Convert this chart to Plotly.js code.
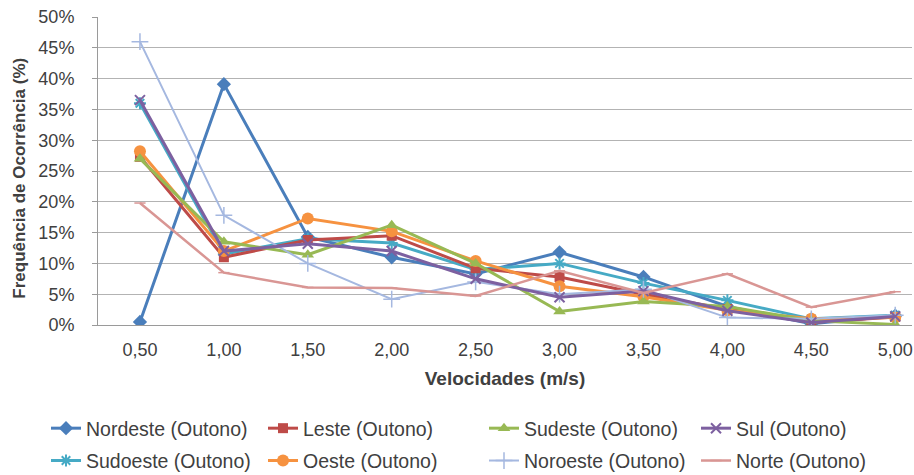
<!DOCTYPE html>
<html>
<head>
<meta charset="utf-8">
<script src="https://cdn.plot.ly/plotly-3.0.1.min.js"></script>
<style>
  html, body { margin: 0; padding: 0; background: #ffffff; }
  #chart { width: 914px; height: 475px; }
</style>
</head>
<body>
<div id="chart"></div>
<script>
// Wind speed classes (m/s)
const velocidades = ["0,50", "1,00", "1,50", "2,00", "2,50", "3,00", "3,50", "4,00", "4,50", "5,00"];

// Frequency of occurrence (%) per direction, autumn
const nordeste = [0.5, 39.1, 14.3, 11.0, 8.3, 11.8, 7.8, 3.0, 0.2, 1.5];
const leste    = [27.3, 11.0, 13.8, 14.5, 9.2, 7.8, 5.0, 2.6, 0.4, 1.3];
const sudeste  = [27.0, 13.5, 11.4, 16.2, 10.0, 2.2, 3.8, 3.0, 0.7, 0.1];
const sul      = [36.5, 12.0, 13.2, 12.0, 7.5, 4.5, 5.5, 2.3, 0.4, 1.4];
const sudoeste = [36.0, 11.5, 14.0, 13.3, 9.0, 10.0, 6.8, 4.0, 1.0, 1.6];
const oeste    = [28.2, 12.0, 17.3, 15.2, 10.4, 6.3, 4.6, 2.4, 1.0, 1.2];
const noroeste = [46.0, 17.8, 10.0, 4.2, 7.0, 5.0, 5.8, 1.2, 1.0, 1.6];
const norte    = [19.8, 8.5, 6.1, 6.0, 4.7, 8.8, 5.2, 8.3, 2.9, 5.4];

const yTicks = [0, 5, 10, 15, 20, 25, 30, 35, 40, 45, 50];
const yTitle = "Frequência de Ocorrência (%)";
const xTitle = "Velocidades (m/s)";

const FONT = "'Liberation Sans', Arial, sans-serif";
const TXT = "#404040";

function serie(name, y, color, symbol, size, width, legend, markerLine) {
  return {
    type: "scatter",
    mode: "lines+markers",
    name: name,
    x: velocidades,
    y: y,
    legend: legend,
    legendgroup: name,
    line: { color: color, width: width },
    marker: {
      symbol: symbol,
      size: size,
      color: color,
      line: { color: color, width: markerLine }
    },
    hoverinfo: "x+y+name"
  };
}

const traces = [
  serie("Nordeste (Outono)", nordeste, "#4A7EBB", "diamond", 11, 3, "legend", 0),
  serie("Sudoeste (Outono)", sudoeste, "#46AAC5", "asterisk-open", 10, 3, "legend", 2),
  serie("Leste (Outono)", leste, "#BE4B48", "square", 10, 3, "legend2", 0),
  serie("Oeste (Outono)", oeste, "#F69240", "circle", 12, 3, "legend2", 0),
  serie("Sudeste (Outono)", sudeste, "#98B954", "triangle-up", 11, 3, "legend3", 0),
  serie("Noroeste (Outono)", noroeste, "#A5B8E0", "cross-thin-open", 12, 2, "legend3", 1.5),
  serie("Sul (Outono)", sul, "#7D60A0", "x-thin-open", 10, 3, "legend4", 2),
  serie("Norte (Outono)", norte, "#D99694", "line-ew-open", 8, 2.5, "legend4", 1.5)
];

// Legend columns placed in container pixels
function legendAt(px) {
  return {
    xref: "container", yref: "container",
    x: px / 914, xanchor: "left",
    y: 1 - 409 / 475, yanchor: "top",
    orientation: "v",
    bgcolor: "rgba(0,0,0,0)",
    font: { family: FONT, size: 19.5, color: TXT },
    tracegroupgap: 4,
    itemclick: false, itemdoubleclick: false
  };
}

const layout = {
  width: 914,
  height: 475,
  margin: { l: 98, r: 2, t: 17, b: 150, autoexpand: false },
  paper_bgcolor: "#ffffff",
  plot_bgcolor: "#ffffff",
  font: { family: FONT, size: 18, color: TXT },
  showlegend: true,
  xaxis: {
    type: "category",
    range: [-0.5, 9.2],
    showgrid: false,
    zeroline: false,
    showline: true,
    linecolor: "#9a9a9a",
    linewidth: 1,
    ticks: "",
    ticklabelstandoff: 8,
    tickfont: { family: FONT, size: 18, color: TXT },
    title: {
      text: "<b>" + xTitle + "</b>",
      font: { family: FONT, size: 19, color: TXT },
      standoff: 13
    },
    automargin: false,
    fixedrange: true
  },
  yaxis: {
    range: [0, 50],
    tickvals: yTicks,
    ticktext: yTicks.map(v => v + "%"),
    showgrid: true,
    gridcolor: "#b3b3b3",
    gridwidth: 1,
    zeroline: false,
    showline: true,
    linecolor: "#9a9a9a",
    linewidth: 1,
    ticks: "outside",
    ticklen: 5,
    tickcolor: "#9a9a9a",
    ticklabelstandoff: 14,
    tickfont: { family: FONT, size: 18, color: TXT },
    automargin: false,
    fixedrange: true
  },
  // Vertical axis title, set beside the tick labels
  annotations: [{
    text: "<b>" + yTitle + "</b>",
    xref: "paper", yref: "paper",
    x: (20 - 98) / 814, y: 0.475,
    xanchor: "center", yanchor: "middle",
    textangle: -90,
    showarrow: false,
    font: { family: FONT, size: 17, color: TXT }
  }],
  legend: legendAt(46),
  legend2: legendAt(263),
  legend3: legendAt(484),
  legend4: legendAt(696)
};

Plotly.newPlot("chart", traces, layout, { displayModeBar: false, staticPlot: true });
</script>
</body>
</html>
